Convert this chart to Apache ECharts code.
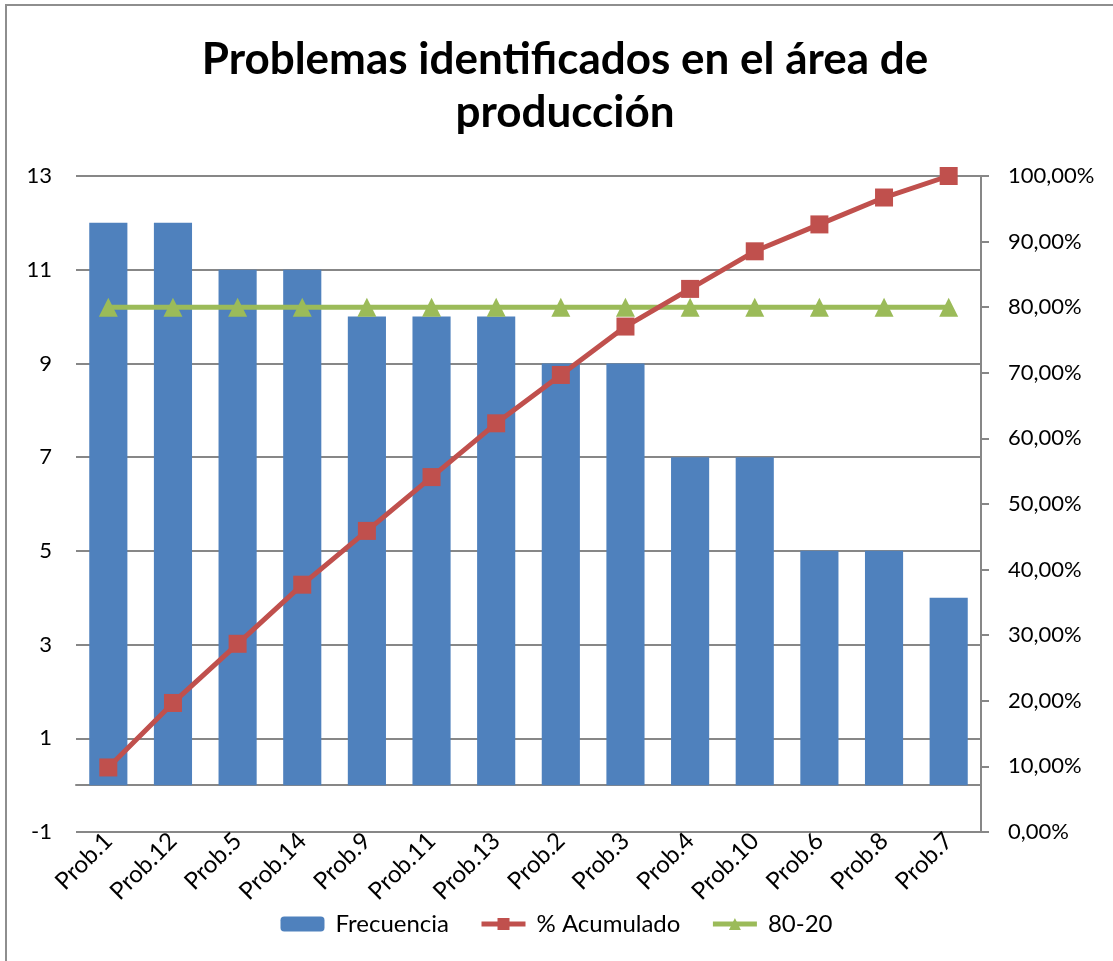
<!DOCTYPE html>
<html>
<head>
<meta charset="utf-8">
<script src="https://cdn.jsdelivr.net/npm/echarts@6/dist/echarts.min.js"></script>
<style>
  html, body { margin: 0; padding: 0; background: #fff; overflow: hidden; }
  #chart { width: 1113px; height: 961px; }
</style>
</head>
<body>
<div id="chart"></div>
<script>
const categories = ["Prob.1", "Prob.12", "Prob.5", "Prob.14", "Prob.9", "Prob.11", "Prob.13",
  "Prob.2", "Prob.3", "Prob.4", "Prob.10", "Prob.6", "Prob.8", "Prob.7"];
const frecuencia = [12, 12, 11, 11, 10, 10, 10, 9, 9, 7, 7, 5, 5, 4];
const acumulado = [0.0984, 0.1967, 0.2869, 0.377, 0.459, 0.541, 0.623,
  0.6967, 0.7705, 0.8279, 0.8852, 0.9262, 0.9672, 1.0];
const ochentaVeinte = [0.8, 0.8, 0.8, 0.8, 0.8, 0.8, 0.8, 0.8, 0.8, 0.8, 0.8, 0.8, 0.8, 0.8];

const font = "Lato, 'Open Sans', sans-serif";
const gray = "#878787";

const myChart = echarts.init(document.getElementById("chart"));
const option = {
  animation: false,
  textStyle: { fontFamily: font },
  graphic: [
    {
      type: "rect",
      shape: { x: 6, y: 5, width: 1300, height: 1200 },
      style: { fill: "none", stroke: "#8e8e8e", lineWidth: 2 },
      silent: true
    }
  ],
  title: {
    text: "Problemas identificados en el área de\nproducción",
    left: 560,
    textAlign: "center",
    top: 28,
    textStyle: {
      fontFamily: font,
      fontSize: 44,
      fontWeight: "bold",
      color: "#000",
      lineHeight: 53
    }
  },
  legend: {
    bottom: 20,
    left: "center",
    itemWidth: 44,
    itemHeight: 15,
    itemGap: 30,
    textStyle: { fontSize: 24, color: "#000", fontFamily: font, padding: [0, 0, 0, 6] },
    data: [
      { name: "Frecuencia" },
      { name: "% Acumulado", lineStyle: { width: 5, color: "#C0504D" } },
      { name: "80-20", lineStyle: { width: 5, color: "#9BBB59" } }
    ]
  },
  grid: { left: 76, right: 132, top: 176, bottom: 129 },
  xAxis: {
    type: "category",
    data: categories,
    axisLine: { onZero: true, lineStyle: { color: gray, width: 2 } },
    axisTick: { show: false },
    axisLabel: { rotate: 45, margin: 5, fontSize: 24, color: "#000", interval: 0 }
  },
  yAxis: [
    {
      type: "value",
      min: -1,
      max: 13,
      interval: 2,
      axisLine: { show: false },
      axisTick: { show: false },
      axisLabel: { fontSize: 22, color: "#000", margin: 24 },
      splitLine: { lineStyle: { color: gray, width: 2 } }
    },
    {
      type: "value",
      position: "right",
      min: 0,
      max: 1,
      interval: 0.1,
      axisLine: { show: true, lineStyle: { color: gray, width: 2 } },
      axisTick: { show: true, length: 8, lineStyle: { color: gray, width: 2 } },
      axisLabel: {
        fontSize: 22,
        color: "#000",
        margin: 27,
        formatter: v => (v * 100).toFixed(2).replace(".", ",") + "%"
      },
      splitLine: { show: false }
    }
  ],
  series: [
    {
      name: "Frecuencia",
      type: "bar",
      data: frecuencia,
      barWidth: "59%",
      itemStyle: { color: "#4F81BD" },
      z: 2
    },
    {
      name: "80-20",
      type: "line",
      yAxisIndex: 1,
      data: ochentaVeinte,
      symbol: "triangle",
      symbolSize: 19,
      lineStyle: { color: "#9BBB59", width: 5 },
      itemStyle: { color: "#9BBB59" },
      z: 3
    },
    {
      name: "% Acumulado",
      type: "line",
      yAxisIndex: 1,
      data: acumulado,
      symbol: "rect",
      symbolSize: 18,
      lineStyle: { color: "#C0504D", width: 5 },
      itemStyle: { color: "#C0504D" },
      z: 4
    }
  ]
};
myChart.setOption(option);
</script>
</body>
</html>
